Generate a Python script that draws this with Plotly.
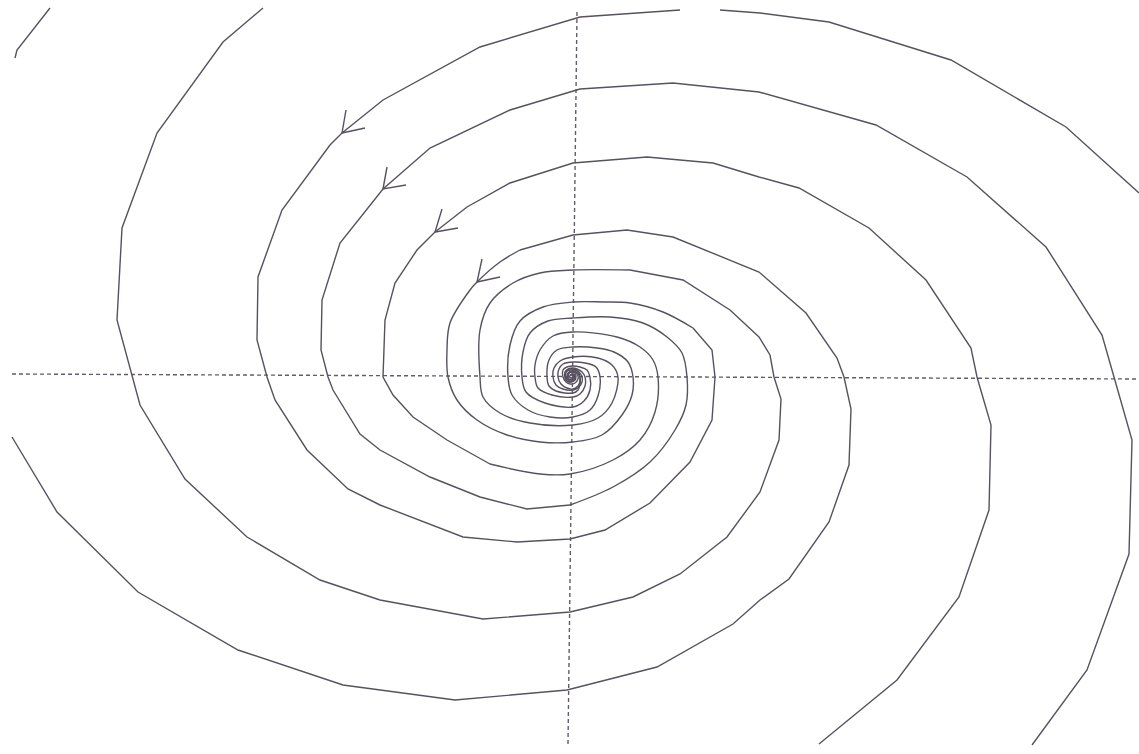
import math
import plotly.graph_objects as go

# ---- data (pixel-like plane coordinates, y grows downward) ----
t1_x = [1032, 1087, 1129, 1132, 1114, 1102, 1046, 967, 876, 759, 673, 580, 510, 430, 383,
        340, 322, 321, 328, 333, 360, 380, 430, 480, 527, 570, 613, 650, 675, 686,
        687, 682, 667, 643, 610, 573, 548, 530, 523, 522, 526, 545, 573, 584, 590,
        590, 587, 580, 573, 567, 563, 563, 566, 570, 575, 578, 578, 576, 572, 569,
        568, 569, 572, 574, 573, 571]
t1_y = [745, 670, 554, 440, 377, 335, 247, 177, 125, 92, 83, 89, 110, 148, 189,
        243, 300, 350, 377, 390, 434, 450, 477, 497, 509, 505, 487, 462, 430, 405,
        377, 353, 337, 323, 317, 318, 321, 333, 352, 377, 392, 403, 407, 401, 390,
        377, 370, 367, 366, 367, 370, 377, 382, 384, 383, 379, 376, 373, 372, 373,
        376, 379, 379, 377, 375, 375]

t2_x = [819, 897, 959, 989, 991, 977, 971, 926, 869, 799, 759, 713, 647, 573, 510,
        467, 435, 417, 395, 385, 383, 393, 413, 447, 490, 540, 570, 613, 640, 655,
        658, 653, 640, 617, 573, 553, 540, 535, 535, 538, 552, 573, 580, 585, 585,
        582, 577, 573, 568, 565, 565, 567, 571, 575, 576, 575, 572, 569, 569, 571,
        573, 572]
t2_y = [744, 680, 597, 510, 425, 377, 348, 280, 228, 188, 177, 163, 157, 163, 183,
        207, 232, 250, 283, 320, 377, 395, 417, 440, 464, 474, 474, 460, 440, 412,
        377, 360, 347, 337, 332, 336, 350, 365, 377, 388, 395, 397, 394, 386, 377,
        372, 369, 368, 369, 372, 377, 381, 382, 380, 376, 373, 372, 373, 376, 378,
        377, 375]

t3_x = [1139, 1066, 951, 829, 760, 720, None, 680, 580, 480, 383, 342, 330, 282, 258,
        257, 267, 275, 307, 348, 380, 463, 517, 570, 605, 650, 690, 712, 715, 712,
        693, 663, 630, 603, 573, 543, 520, 510, 508, 512, 528, 550, 573, 590, 598,
        600, 596, 585, 573, 563, 559, 558, 561, 567, 573, 578, 580, 579, 576, 572,
        568, 567, 568, 571, 574, 574, 572]
t3_y = [193, 127, 60, 22, 13, 10, None, 10, 17, 47, 100, 133, 145, 210, 277,
        340, 377, 400, 450, 489, 505, 537, 542, 539, 530, 503, 462, 420, 377, 350,
        328, 312, 303, 302, 302, 307, 321, 345, 377, 395, 410, 417, 417, 410, 396,
        377, 367, 363, 362, 364, 369, 377, 384, 388, 389, 386, 380, 375, 372, 371,
        373, 376, 379, 380, 378, 376, 375]

t4_x = [263, 223, 157, 122, 117, 132, 140, 185, 247, 320, 380, 483, 570, 633, 680,
        727, 760, 779, 781, 774, 770, 759, 730, 683, 630, 573, 540, 513, 490, 480,
        480, 483, 500, 530, 573, 598, 612, 618, 612, 598, 573, 560, 554, 553, 556,
        563, 573, 579, 582, 582, 579, 574, 569, 566, 566, 568, 572, 575, 575, 573,
        570]
t4_y = [8, 42, 133, 228, 320, 377, 405, 479, 537, 580, 600, 619, 612, 597, 574,
        537, 492, 440, 399, 377, 355, 337, 310, 280, 270, 270, 273, 283, 303, 330,
        377, 397, 413, 423, 425, 418, 403, 377, 365, 358, 357, 361, 368, 377, 385,
        389, 390, 387, 382, 377, 372, 369, 369, 372, 377, 380, 381, 379, 376, 374,
        375]

t5_x = [12, 57, 138, 238, 343, 380, 455, 567, 657, 733, 760, 789, 829, 849, 851,
        844, 837, 806, 759, 673, 627, 573, 520, 500, 477, 470, 450, 447, 448, 457,
        477, 507, 540, 573, 602, 622, 632, 633, 628, 614, 597, 573, 557, 549, 547,
        549, 556, 573, 578, 580, 580, 578, 574, 570, 566, 565, 566, 569, 573, 575,
        574, 572, 570]
t5_y = [437, 512, 592, 650, 685, 690, 700, 690, 667, 624, 600, 579, 522, 465, 409,
        377, 358, 313, 272, 237, 230, 235, 250, 262, 282, 290, 323, 350, 377, 400,
        420, 435, 442, 442, 435, 415, 395, 377, 362, 352, 348, 347, 350, 360, 377,
        386, 391, 393, 390, 384, 377, 372, 370, 370, 372, 377, 380, 382, 381, 378,
        375, 374, 376]

frag_x = [50, 17, 15]
frag_y = [8, 50, 58]

# arrowheads: barb, tip, barb
arrow_x = [[346, 342, 365], [387, 383, 406], [442, 435, 458], [482, 477, 500]]
arrow_y = [[110, 133, 128], [167, 189, 185], [209, 232, 228], [259, 282, 277]]

# dashed reference axes (endpoints)
haxis_x = [12, 1139]
haxis_y = [374, 379]
vaxis_x = [577, 568]
vaxis_y = [12, 744]

CURVE = "#58515f"
AXC = "#625c68"
CENTER = (572, 376)
INNER_R = 140

fig = go.Figure()

fig.add_trace(go.Scatter(x=haxis_x, y=haxis_y, mode="lines",
                         line=dict(color=AXC, width=1.4, dash="4px,3px"), hoverinfo="skip"))
fig.add_trace(go.Scatter(x=vaxis_x, y=vaxis_y, mode="lines",
                         line=dict(color=AXC, width=1.4, dash="4px,3px"), hoverinfo="skip"))


def split_index(xs, ys):
    # first index after which every point stays near the centre
    idx = len(xs) - 1
    for i in range(len(xs) - 1, -1, -1):
        if xs[i] is None:
            break
        if math.hypot(xs[i] - CENTER[0], ys[i] - CENTER[1]) > INNER_R:
            break
        idx = i
    return idx


for xs, ys in [(t1_x, t1_y), (t2_x, t2_y), (t3_x, t3_y), (t4_x, t4_y), (t5_x, t5_y)]:
    k = split_index(xs, ys)
    fig.add_trace(go.Scatter(x=xs[:k + 1], y=ys[:k + 1], mode="lines", connectgaps=False,
                             line=dict(color=CURVE, width=1.4), hoverinfo="skip"))
    fig.add_trace(go.Scatter(x=xs[k:], y=ys[k:], mode="lines",
                             line=dict(color=CURVE, width=1.4, shape="spline", smoothing=1.0),
                             hoverinfo="skip"))

fig.add_trace(go.Scatter(x=frag_x, y=frag_y, mode="lines",
                         line=dict(color=CURVE, width=1.4), hoverinfo="skip"))

for ax, ay in zip(arrow_x, arrow_y):
    fig.add_trace(go.Scatter(x=ax, y=ay, mode="lines",
                             line=dict(color=CURVE, width=1.4), hoverinfo="skip"))

fig.update_layout(
    width=1139, height=754,
    margin=dict(l=0, r=0, t=0, b=0),
    paper_bgcolor="white", plot_bgcolor="white",
    showlegend=False,
    xaxis=dict(range=[0, 1139], visible=False, fixedrange=True),
    yaxis=dict(range=[754, 0], visible=False, fixedrange=True),
)

fig.write_html("out.html", config={"displayModeBar": False})
